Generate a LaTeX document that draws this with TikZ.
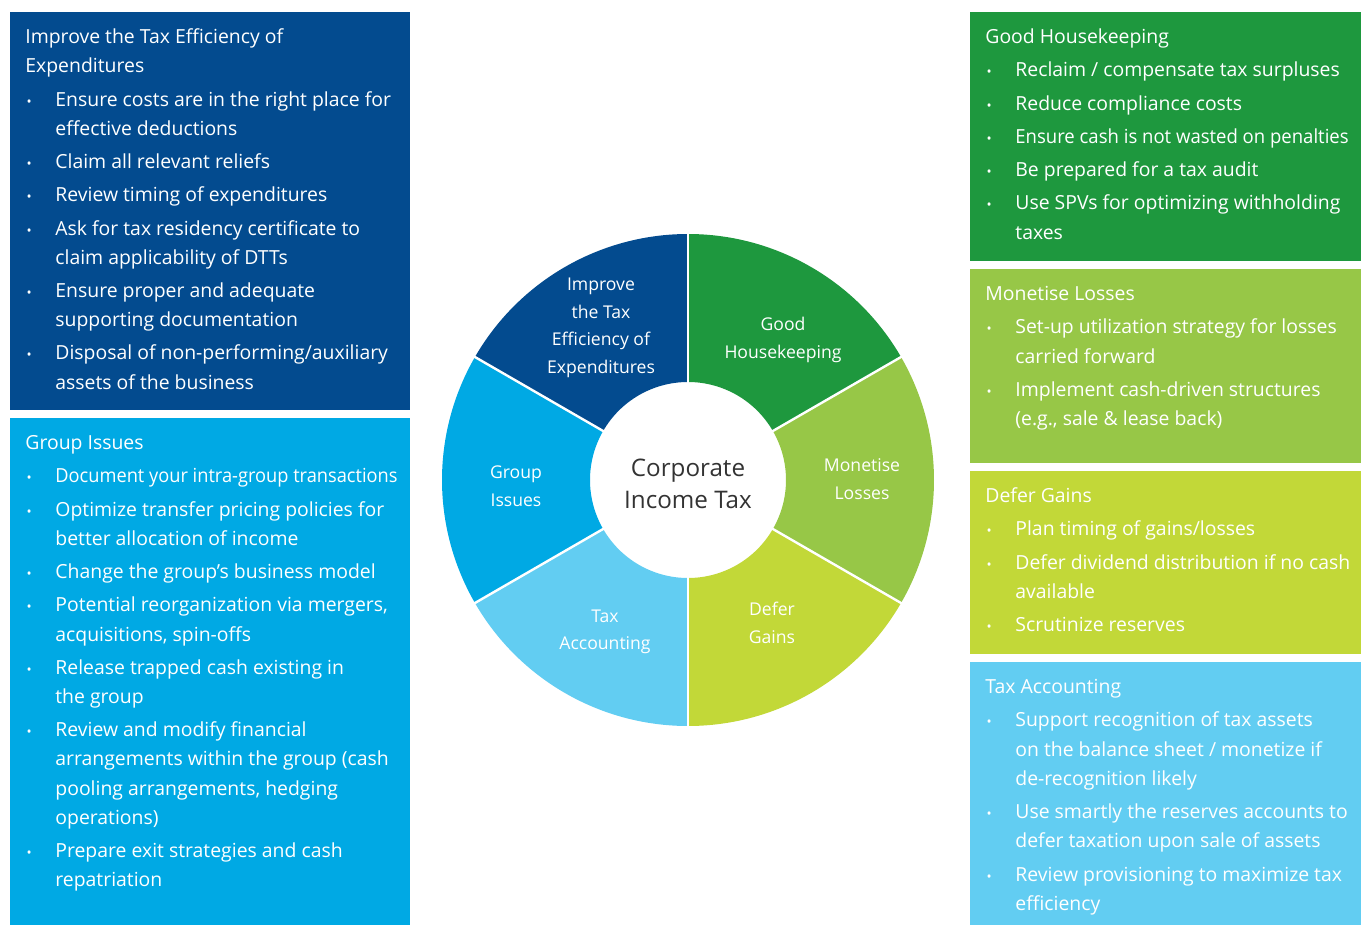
\documentclass[tikz,border=0pt]{standalone}
\usepackage{graphicx}
\usepackage{fontspec}
\setmainfont{Open Sans}
\usepackage{tikz}

\definecolor{navy}{RGB}{3,75,143}
\definecolor{green}{RGB}{30,152,62}
\definecolor{leaf}{RGB}{151,199,71}
\definecolor{lime}{RGB}{194,216,56}
\definecolor{sky}{RGB}{98,205,242}
\definecolor{blue}{RGB}{0,169,228}
\definecolor{ink}{RGB}{51,51,51}

% bullet and continuation line of a list
\newcommand{\bitem}{\strut\makebox[15pt][l]{\hspace{0.6pt}\scalebox{0.7}{\textbullet}}}
\newcommand{\bcont}{\strut\hspace*{15pt}}
% squeeze an over-long line
\newcommand{\tight}[2]{\scalebox{#1}[1]{#2}}

\tikzset{
	boxtext/.style={anchor=north west, inner sep=0pt, text=white, align=left,
		font=\fontsize{9.7}{14.62}\selectfont},
	seglabel/.style={inner sep=0pt, text=white, align=center,
		font=\fontsize{8.8}{13.8}\selectfont}
}

\begin{document}
\begin{tikzpicture}[x=0.5pt, y=-0.5pt]
	\useasboundingbox (0,0) rectangle (1362,926);
	
	% panels
	\fill[navy] (10,12) rectangle (410,410);
	\fill[blue] (10,418) rectangle (410,925);
	\fill[green] (970,12) rectangle (1361,261);
	\fill[leaf] (970,269) rectangle (1361,463);
	\fill[lime] (970,471) rectangle (1361,654);
	\fill[sky] (970,662) rectangle (1361,925);
	
	\node (improve) [boxtext] at (25,22.7) {\strut Improve the Tax Efficiency of\\
		\strut Expenditures\\[2pt]
		\bitem Ensure costs are in the right place for\\
		\bcont effective deductions\\[2pt]
		\bitem Claim all relevant reliefs\\[2pt]
		\bitem Review timing of expenditures\\[2pt]
		\bitem Ask for tax residency certificate to\\
		\bcont claim applicability of DTTs\\[2pt]
		\bitem Ensure proper and adequate\\
		\bcont supporting documentation\\[2pt]
		\bitem Disposal of non-performing/auxiliary\\
		\bcont assets of the business};
	
	\node (group) [boxtext] at (25,428.7) {\strut Group Issues\\[2pt]
		\bitem \tight{0.94}{Document your intra-group transactions}\\[2pt]
		\bitem Optimize transfer pricing policies for\\
		\bcont better allocation of income\\[2pt]
		\bitem Change the group's business model\\[2pt]
		\bitem Potential reorganization via mergers,\\
		\bcont acquisitions, spin-offs\\[2pt]
		\bitem Release trapped cash existing in\\
		\bcont the group\\[2pt]
		\bitem Review and modify financial\\
		\bcont arrangements within the group (cash\\
		\bcont pooling arrangements, hedging\\
		\bcont operations)\\[2pt]
		\bitem Prepare exit strategies and cash\\
		\bcont repatriation};
	
	\node (house) [boxtext] at (985,22.7) {\strut Good Housekeeping\\[2pt]
		\bitem Reclaim / compensate tax surpluses\\[2pt]
		\bitem Reduce compliance costs\\[2pt]
		\bitem \tight{0.955}{Ensure cash is not wasted on penalties}\\[2pt]
		\bitem Be prepared for a tax audit\\[2pt]
		\bitem Use SPVs for optimizing withholding\\
		\bcont taxes};
	
	\node (losses) [boxtext] at (985,279.7) {\strut Monetise Losses\\[2pt]
		\bitem Set-up utilization strategy for losses\\
		\bcont carried forward\\[2pt]
		\bitem Implement cash-driven structures\\
		\bcont (e.g., sale \& lease back)};
	
	\node (gains) [boxtext] at (985,481.7) {\strut Defer Gains\\[2pt]
		\bitem Plan timing of gains/losses\\[2pt]
		\bitem Defer dividend distribution if no cash\\
		\bcont available\\[2pt]
		\bitem Scrutinize reserves};
	
	\node (accounting) [boxtext] at (985,672.7) {\strut Tax Accounting\\[2pt]
		\bitem Support recognition of tax assets\\
		\bcont on the balance sheet / monetize if\\
		\bcont de-recognition likely\\[2pt]
		\bitem Use smartly the reserves accounts to\\
		\bcont defer taxation upon sale of assets\\[2pt]
		\bitem Review provisioning to maximize tax\\
		\bcont efficiency};
	
	% the wheel
	\begin{scope}[shift={(688,480)}, y=0.5pt]
		\foreach \a/\b/\c in {90/150/navy, 30/90/green, -30/30/leaf,
			-90/-30/lime, -150/-90/sky, 150/210/blue}
			\fill[\c] (\a:98) -- (\a:246) arc[start angle=\a, end angle=\b, radius=246]
				-- (\b:98) arc[start angle=\b, end angle=\a, radius=98] -- cycle;
		\foreach \a in {90,30,-30,-90,-150,150}
			\draw[white, line width=1.2pt] (\a:96) -- (\a:248);
		
		\node (segimprove) [seglabel] at (-87,152) {Improve\\the Tax\\Efficiency of\\Expenditures};
		\node (seghouse) [seglabel] at (95,140) {Good\\Housekeeping};
		\node (seglosses) [seglabel] at (174,1) {Monetise\\Losses};
		\node (seggains) [seglabel] at (84,-143) {Defer\\Gains};
		\node (segaccounting) [seglabel] at (-83,-152) {Tax\\Accounting};
		\node (seggroup) [seglabel] at (-172,-6) {Group\\Issues};
		\node (hub) [inner sep=0pt, text=ink, align=center,
			font=\fontsize{12.1}{16}\selectfont] at (0,-4) {Corporate\\Income Tax};
	\end{scope}
\end{tikzpicture}
\end{document}
